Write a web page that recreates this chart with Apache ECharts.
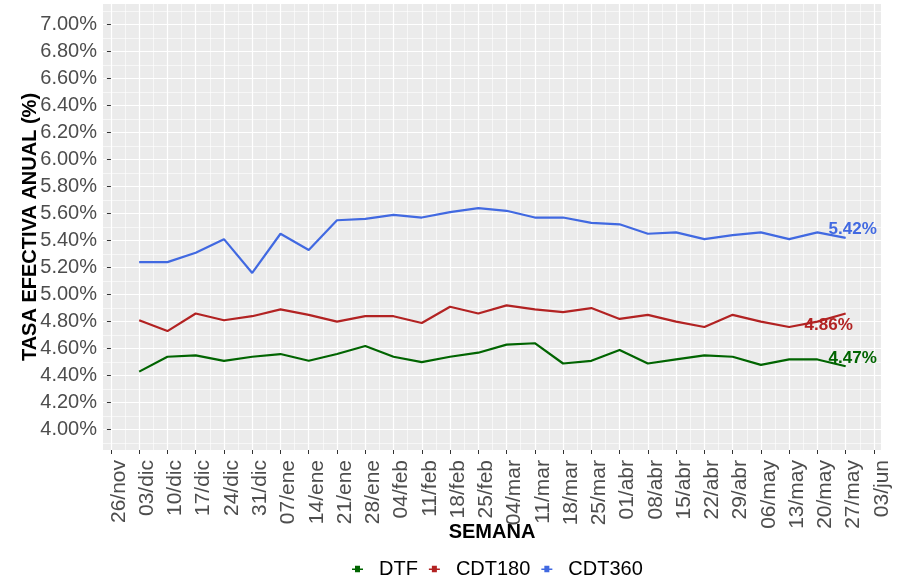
<!DOCTYPE html>
<html>
<head>
<meta charset="utf-8">
<script src="https://cdn.jsdelivr.net/npm/echarts@6/dist/echarts.min.js"></script>
<style>
  html, body { margin: 0; padding: 0; background: #fff; }
  #chart { width: 907px; height: 580px; }
</style>
</head>
<body>
<div id="chart"></div>
<script>
// weekly axis labels (26/nov .. 03/jun); data runs 03/dic .. 27/may
const weeks = ["26/nov", "03/dic", "10/dic", "17/dic", "24/dic", "31/dic", "07/ene", "14/ene",
  "21/ene", "28/ene", "04/feb", "11/feb", "18/feb", "25/feb", "04/mar", "11/mar", "18/mar",
  "25/mar", "01/abr", "08/abr", "15/abr", "22/abr", "29/abr", "06/may", "13/may", "20/may",
  "27/may", "03/jun"];

const dtf = [4.43, 4.54, 4.55, 4.51, 4.54, 4.56, 4.51, 4.56, 4.62, 4.54, 4.50, 4.54, 4.57,
  4.63, 4.64, 4.49, 4.51, 4.59, 4.49, 4.52, 4.55, 4.54, 4.48, 4.52, 4.52, 4.47];
const cdt180 = [4.81, 4.73, 4.86, 4.81, 4.84, 4.89, 4.85, 4.80, 4.84, 4.84, 4.79, 4.91, 4.86,
  4.92, 4.89, 4.87, 4.90, 4.82, 4.85, 4.80, 4.76, 4.85, 4.80, 4.76, 4.80, 4.86];
const cdt360 = [5.24, 5.24, 5.31, 5.41, 5.16, 5.45, 5.33, 5.55, 5.56, 5.59, 5.57, 5.61, 5.64,
  5.62, 5.57, 5.57, 5.53, 5.52, 5.45, 5.46, 5.41, 5.44, 5.46, 5.41, 5.46, 5.42];

const yTicks = [4.0, 4.2, 4.4, 4.6, 4.8, 5.0, 5.2, 5.4, 5.6, 5.8, 6.0, 6.2, 6.4, 6.6, 6.8, 7.0];
const yMinor = [3.9, 4.1, 4.3, 4.5, 4.7, 4.9, 5.1, 5.3, 5.5, 5.7, 5.9, 6.1, 6.3, 6.5, 6.7, 6.9, 7.1];

const xTicks = weeks.map((w, i) => i);
const xMinor = weeks.slice(1).map((w, i) => i + 0.5);

const chart = echarts.init(document.getElementById("chart"));

const font = "Liberation Sans";
const xMin = -0.28, xMax = 27.25, yMin = 3.85, yMax = 7.15;

function makeSeries(name, values, color, labelOffset) {
  return {
    name: name,
    type: "line",
    xAxisIndex: 0,
    yAxisIndex: 0,
    data: values.map((v, i) => [i + 1, v]),
    symbol: "none",
    lineStyle: { width: 2.2, color: color },
    itemStyle: { color: color },
    endLabel: {
      show: true,
      formatter: (p) => p.value[1].toFixed(2) + "%",
      color: color,
      fontFamily: font,
      fontWeight: "bold",
      fontSize: 17,
      distance: 0,
      align: "center",
      verticalAlign: "middle",
      offset: labelOffset,
    },
    emphasis: { disabled: true },
  };
}

const option = {
  animation: false,
  backgroundColor: "#ffffff",
  grid: {
    left: 103,
    right: 26,
    top: 4,
    bottom: 130,
    show: true,
    backgroundColor: "#EBEBEB",
    borderWidth: 0,
    containLabel: false,
    outerBoundsMode: "none",
  },
  legend: {
    top: 559,
    left: 352,
    padding: 0,
    data: ["DTF", "CDT180", "CDT360"],
    icon: "path://M0,6h11v1.4H0z M3,3.2h5v6.4h-5z",
    itemWidth: 11,
    itemHeight: 12,
    itemGap: 11,
    textStyle: { fontFamily: font, fontSize: 20, color: "#000", padding: [0, 0, 0, 11] },
  },
  xAxis: [
    {
      type: "value",
      min: xMin,
      max: xMax,
      name: "SEMANA",
      nameLocation: "middle",
      nameGap: 72,
      nameMoveOverlap: false,
      nameTextStyle: { fontFamily: font, fontSize: 20, fontWeight: "bold", color: "#000" },
      axisLine: { show: false },
      axisTick: { show: true, length: 4, lineStyle: { color: "#333", width: 1 }, customValues: xTicks },
      axisLabel: {
        customValues: xTicks,
        rotate: 90,
        margin: 10,
        verticalAlign: "top",
        lineHeight: 16,
        fontFamily: font,
        fontSize: 21,
        color: "#4D4D4D",
        formatter: (v) => weeks[Math.round(v)],
      },
      splitLine: { show: true, lineStyle: { color: "#fff", width: 1.2 } },
    },
    {
      type: "value",
      min: xMin,
      max: xMax,
      axisLine: { show: false },
      axisTick: { show: false, customValues: xMinor },
      axisLabel: { show: false, customValues: xMinor },
      splitLine: { show: true, lineStyle: { color: "#fff", width: 0.6 } },
    },
  ],
  yAxis: [
    {
      type: "value",
      min: yMin,
      max: yMax,
      name: "TASA EFECTIVA ANUAL (%)",
      nameLocation: "middle",
      nameGap: 63,
      nameMoveOverlap: false,
      nameTextStyle: { fontFamily: font, fontSize: 20, fontWeight: "bold", color: "#000" },
      axisLine: { show: false },
      axisTick: { show: true, length: 4, lineStyle: { color: "#333", width: 1 }, customValues: yTicks },
      axisLabel: {
        customValues: yTicks,
        margin: 6,
        fontFamily: font,
        fontSize: 20,
        color: "#4D4D4D",
        formatter: (v) => v.toFixed(2) + "%",
      },
      splitLine: { show: true, lineStyle: { color: "#fff", width: 1.2 } },
    },
    {
      type: "value",
      min: yMin,
      max: yMax,
      axisLine: { show: false },
      axisTick: { show: false, customValues: yMinor },
      axisLabel: { show: false, customValues: yMinor },
      splitLine: { show: true, lineStyle: { color: "#fff", width: 0.6 } },
    },
  ],
  series: [
    makeSeries("DTF", dtf, "#006400", [7, -8]),
    makeSeries("CDT180", cdt180, "#B22222", [-17, 12]),
    makeSeries("CDT360", cdt360, "#4169E1", [7, -8]),
  ],
};

chart.setOption(option);
</script>
</body>
</html>
